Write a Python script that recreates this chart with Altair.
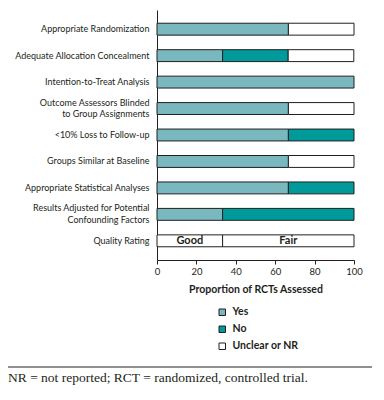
import altair as alt
import pandas as pd

criteria = [
    "Appropriate Randomization",
    "Adequate Allocation Concealment",
    "Intention-to-Treat Analysis",
    "Outcome Assessors Blinded|to Group Assignments",
    "<10% Loss to Follow-up",
    "Groups Similar at Baseline",
    "Appropriate Statistical Analyses",
    "Results Adjusted for Potential|Confounding Factors",
    "Quality Rating",
]
responses = ["Yes", "No", "Unclear or NR"]
yes_vals = [66.7, 33.3, 100, 66.7, 66.7, 66.7, 66.7, 33.3]
no_vals = [0, 33.3, 0, 0, 33.3, 0, 33.3, 66.7]
unclear_vals = [33.3, 33.3, 0, 33.3, 0, 33.3, 0, 0]

ratings = ["Good", "Fair"]
rating_start = [0, 33.3]
rating_end = [33.3, 100]

colors = ["#78b8be", "#009a9b", "#ffffff"]
ink = "#231f20"
font = "Lato"

rows = []
for i, c in enumerate(criteria[:8]):
    for j, (r, v) in enumerate(zip(responses, [yes_vals[i], no_vals[i], unclear_vals[i]])):
        if v > 0:
            rows.append({"criterion": c, "response": r, "value": v, "ord": j})
df = pd.DataFrame(rows)

qdf = pd.DataFrame({
    "criterion": ["Quality Rating"] * 2,
    "rating": ratings,
    "start": rating_start,
    "end": rating_end,
})

y_enc = alt.Y(
    "criterion:N",
    sort=criteria,
    title=None,
    scale=alt.Scale(domain=criteria, paddingInner=0.55, paddingOuter=0.5),
    axis=alt.Axis(
        labelExpr="split(datum.label, '|')",
        labelBaseline={
            "condition": {"test": "indexof(datum.value, '|') >= 0", "value": "line-bottom"},
            "value": "middle",
        },
        ticks=False,
        domain=True,
        domainColor=ink,
        domainWidth=1,
        labelPadding=8,
        labelFont=font,
        labelFontSize=9,
        labelColor=ink,
        labelLineHeight=11.5,
        labelLimit=200,
    ),
)

x_scale = alt.Scale(domain=[0, 100], nice=False)
x_axis = alt.Axis(
    values=[0, 20, 40, 60, 80, 100],
    grid=False,
    tickSize=4,
    tickColor=ink,
    domainColor=ink,
    labelFont=font,
    labelFontSize=9.5,
    labelColor=ink,
    labelPadding=2,
    labelOverlap=False,
    labelFlush=False,
    title="Proportion of RCTs Assessed",
    titleFont=font,
    titleFontSize=10.5,
    titleFontWeight="bold",
    titleColor=ink,
    titlePadding=9,
)

bars = alt.Chart(df).mark_bar(stroke=ink, strokeWidth=1).encode(
    x=alt.X("value:Q", stack="zero", scale=x_scale, axis=x_axis),
    y=y_enc,
    color=alt.Color(
        "response:N",
        scale=alt.Scale(domain=responses, range=colors),
        legend=alt.Legend(
            title=None,
            orient="none",
            legendX=60,
            legendY=297,
            direction="vertical",
            symbolType="square",
            symbolSize=42,
            symbolStrokeColor=ink,
            symbolStrokeWidth=1,
            labelFont=font,
            labelFontSize=10.5,
            labelFontWeight="bold",
            labelColor=ink,
            rowPadding=6,
            padding=0,
            labelOffset=5,
        ),
    ),
    order=alt.Order("ord:Q"),
)

qbars = alt.Chart(qdf).mark_bar(fill="#ffffff", stroke=ink, strokeWidth=1).encode(
    x=alt.X("start:Q", scale=x_scale, axis=x_axis),
    x2="end:Q",
    y=alt.Y("criterion:N", sort=criteria),
)

qtext = alt.Chart(qdf).transform_calculate(
    mid="(datum.start + datum.end) / 2"
).mark_text(font=font, fontSize=11, fontWeight="bold", color=ink, baseline="middle").encode(
    x=alt.X("mid:Q", scale=x_scale, axis=x_axis),
    y=alt.Y("criterion:N", sort=criteria),
    text="rating:N",
)

note = pd.DataFrame({"note": ["NR = not reported; RCT = randomized, controlled trial."]})
rule = alt.Chart(note).mark_rule(color=ink, strokeWidth=1).encode(
    x=alt.value(-149), x2=alt.value(215), y=alt.value(357)
)
footer = alt.Chart(note).mark_text(
    font="Liberation Serif", fontSize=13.5, color=ink, align="left", baseline="middle"
).encode(x=alt.value(-149), y=alt.value(368), text="note:N")

chart = alt.layer(bars, qbars, qtext, rule, footer).properties(
    width=197,
    height=250,
    autosize=alt.AutoSizeParams(type="none"),
    padding={"left": 149, "top": 2, "right": 22, "bottom": 128},
).configure_view(strokeWidth=0).configure_axisX(labelOverlap=False)

chart.save("out.html", embed_options={"renderer": "svg", "actions": False})
